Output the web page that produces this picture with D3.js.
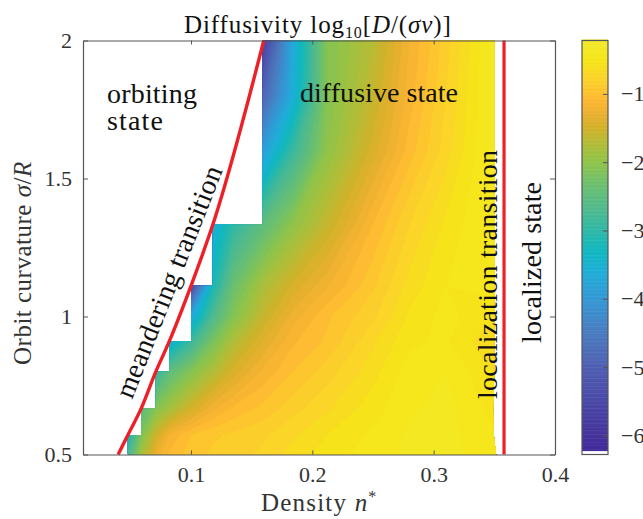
<!DOCTYPE html>
<html>
<head>
<meta charset="utf-8">
<script src="https://cdn.jsdelivr.net/npm/d3@7"></script>
<style>
  body { margin: 0; background: #fff; }
  text { font-family: "Liberation Serif", serif; }
</style>
</head>
<body>
<div id="chart"></div>
<script>
var width = 643, height = 519;
var margin = { top: 40.5, right: 88, bottom: 64.5, left: 83 };

// density columns of the table
var densities = [0.048, 0.059, 0.071, 0.082, 0.1, 0.118, 0.135, 0.159, 0.184, 0.212, 0.25, 0.28, 0.31, 0.352];
// orbit curvature rows, bottom to top
var curvatures = [0.5, 0.571, 0.667, 0.8, 0.909, 1.0, 1.111, 1.333, 1.6, 1.8, 2];

// log10 diffusivity, null where the state is not diffusive
var row050 = [-2.8, -1.85, -1.3, -1.08, -0.95, -0.88, -0.84, -0.78, -0.66, -0.55, -0.45, -0.38, -0.36, -0.48];
var row057 = [-3.3, -2.15, -1.55, -1.2, -1.0, -0.92, -0.88, -0.82, -0.72, -0.6, -0.48, -0.38, -0.36, -0.5];
var row067 = [null, -2.6, -2.1, -1.85, -1.5, -1.22, -1.08, -0.97, -0.84, -0.72, -0.54, -0.42, -0.36, -0.55];
var row080 = [null, null, -3.0, -2.5, -2.1, -1.75, -1.45, -1.18, -1.0, -0.85, -0.64, -0.45, -0.4, -0.62];
var row091 = [null, null, null, -3.6, -2.9, -2.2, -1.75, -1.4, -1.12, -0.98, -0.72, -0.52, -0.48, -0.72];
var row100 = [null, null, null, null, -3.7, -2.7, -2.1, -1.6, -1.25, -1.02, -0.82, -0.58, -0.46, -0.6];
var row111 = [null, null, null, null, -5.5, -3.2, -2.35, -1.8, -1.47, -1.22, -0.92, -0.66, -0.5, -0.4];
var row133 = [null, null, null, null, null, -3.6, -3.0, -2.5, -2.0, -1.6, -1.1, -0.8, -0.58, -0.35];
var row160 = [null, null, null, null, null, null, null, -3.9, -2.9, -2.0, -1.45, -1.05, -0.75, -0.32];
var row180 = [null, null, null, null, null, null, null, -4.9, -3.6, -2.1, -1.6, -1.15, -0.8, -0.32];
var row200 = [null, null, null, null, null, null, null, -5.7, -3.7, -2.1, -1.7, -1.2, -0.85, -0.32];
var rows = [row050, row057, row067, row080, row091, row100, row111, row133, row160, row180, row200];

// right edge of the diffusive region at each row
var rightEdge = [0.3515, 0.3495, 0.349, 0.35, 0.35, 0.35, 0.35, 0.35, 0.35, 0.35, 0.35];

var xTicks = [0.1, 0.2, 0.3, 0.4];
var yTicks = [0.5, 1, 1.5, 2];
var barTicks = [-1, -2, -3, -4, -5, -6];
var meanderCurve = [0.5, 0.571, 0.667, 0.8, 0.909, 1.111, 1.333, 2];
var meanderDensity = [0.04, 0.048, 0.059, 0.071, 0.082, 0.1, 0.118, 0.16];
var localizationDensity = 0.358;

// colormap
var mapValues = [-0.2, -0.5, -0.8, -1.1, -1.3, -1.5, -1.75, -2, -2.3, -2.7, -3, -3.3, -3.6, -4, -4.5, -5, -5.5, -6, -6.25];
var mapColors = ["#f2ea2e", "#f5e617", "#fcd22a", "#fdb732", "#eab030", "#d3b129", "#b0bd38", "#8fc449", "#6fc06c",
  "#4fba8f", "#2fb8a6", "#0fb8c0", "#1faed8", "#3498d5", "#4a7cc0", "#4f5fb2", "#4a49a8", "#45339b", "#40289a"];

var color = d3.scaleLinear().domain(mapValues).range(mapColors).clamp(true);

var svg = d3.select("#chart").append("svg")
  .attr("width", width)
  .attr("height", height);

var x = d3.scaleLinear().domain([0.011, 0.4]).range([margin.left, width - margin.right]);
var y = d3.scaleLinear().domain([0.5, 2]).range([height - margin.bottom, margin.top]);

function firstValid(j) {
  return rows[j].findIndex(function(v) { return v !== null; });
}

// clip follows the stair on the left and the edge on the right
var clipPoints = [[densities[firstValid(0)], curvatures[0]]];
curvatures.forEach(function(c, j) {
  if (j > 0) {
    var s = densities[firstValid(j)];
    clipPoints.push([s, curvatures[j - 1]]);
    clipPoints.push([s, c]);
  }
});
curvatures.slice().reverse().forEach(function(c, j) {
  clipPoints.push([rightEdge[curvatures.length - 1 - j], c]);
});

svg.append("clipPath").attr("id", "stair")
  .append("path")
  .attr("d", d3.line().x(function(d) { return x(d[0]); }).y(function(d) { return y(d[1]); })(clipPoints) + "Z");

// flatten the table, cells outside the region repeat the first value of the row
var nx = densities.length, ny = curvatures.length;
var grid = [];
rows.forEach(function(r, j) {
  var f = r[firstValid(j)];
  r.forEach(function(v) { grid.push(v === null ? f : v); });
});

var levels = d3.range(-6.3, -0.25, 0.1);
var contours = d3.contours().size([nx, ny]).thresholds(levels)(grid);

var colToX = d3.scaleLinear().domain(densities.map(function(d, i) { return i + 0.5; })).range(densities).clamp(true);
var rowToY = d3.scaleLinear().domain(curvatures.map(function(d, i) { return i + 0.5; })).range(curvatures).clamp(true);

var project = d3.geoTransform({
  point: function(px, py) { this.stream.point(x(colToX(px)), y(rowToY(py))); }
});

svg.append("g").attr("clip-path", "url(#stair)")
  .selectAll("path")
  .data(contours)
  .enter()
  .append("path")
  .attr("d", d3.geoPath(project))
  .attr("fill", function(d) { return color(d.value + 0.05); })
  .attr("stroke", function(d) { return color(d.value + 0.05); })
  .attr("stroke-width", 0.4);

// red transition lines
svg.append("path")
  .datum(meanderCurve.map(function(c, i) { return [meanderDensity[i], c]; }))
  .attr("d", d3.line().curve(d3.curveMonotoneX)
    .x(function(d) { return x(d[0]); })
    .y(function(d) { return y(d[1]); }))
  .attr("fill", "none")
  .attr("stroke", "#ee2027").attr("stroke-width", 3.4);

svg.append("line")
  .attr("x1", x(localizationDensity)).attr("y1", y(0.5))
  .attr("x2", x(localizationDensity)).attr("y2", y(2))
  .attr("stroke", "#ee2027").attr("stroke-width", 3.2);

// axes, ticks on all sides
var axisColor = "#555";
var tickColor = "#333";
var tickSize = 22;

function styleAxis(g) {
  g.selectAll(".domain").attr("stroke", axisColor).attr("stroke-width", 1.2);
  g.selectAll(".tick line").attr("stroke", axisColor);
  g.selectAll("text").attr("font-family", "Liberation Serif").attr("font-size", tickSize).attr("fill", tickColor);
}

svg.append("g")
  .attr("transform", "translate(0," + y(0.5) + ")")
  .call(d3.axisBottom(x).tickValues(xTicks).tickSize(-4).tickPadding(12).tickSizeOuter(0).tickFormat(d3.format(".1f")))
  .call(styleAxis);
svg.append("g")
  .attr("transform", "translate(0," + y(2) + ")")
  .call(d3.axisTop(x).tickValues(xTicks).tickSize(-4).tickSizeOuter(0).tickFormat(""))
  .call(styleAxis);
svg.append("g")
  .attr("transform", "translate(" + x.range()[0] + ",0)")
  .call(d3.axisLeft(y).tickValues(yTicks).tickSize(-5).tickPadding(11).tickSizeOuter(0).tickFormat(function(d) { return d; }))
  .call(styleAxis);
svg.append("g")
  .attr("transform", "translate(" + x.range()[1] + ",0)")
  .call(d3.axisRight(y).tickValues(yTicks).tickSize(-5).tickSizeOuter(0).tickFormat(""))
  .call(styleAxis);

// colorbar
var barLeft = 582, barRight = 608;
var barScale = d3.scaleLinear().domain([-0.218, -6.28]).range([margin.top, height - margin.bottom]);
var barSteps = d3.range(-6.23, -0.218, 0.02);

svg.append("g").selectAll("rect")
  .data(barSteps)
  .enter()
  .append("rect")
  .attr("x", barLeft)
  .attr("width", barRight - barLeft)
  .attr("y", function(d) { return barScale(d + 0.02) - 0.5; })
  .attr("height", function(d) { return barScale(d) - barScale(d + 0.02) + 0.5; })
  .attr("fill", function(d) { return color(d + 0.01); });

svg.append("rect")
  .attr("x", barLeft).attr("y", margin.top)
  .attr("width", barRight - barLeft).attr("height", barScale.range()[1] - margin.top)
  .attr("fill", "none").attr("stroke", axisColor).attr("stroke-width", 1.2);

svg.append("g")
  .attr("transform", "translate(" + barRight + ",0)")
  .call(d3.axisRight(barScale).tickValues(barTicks).tickSize(-5).tickPadding(13).tickSizeOuter(0)
    .tickFormat(function(d) { return "\u2212" + Math.abs(d); }))
  .call(styleAxis)
  .call(function(g) { g.select(".domain").remove(); });

// labels
function label(px, py, size, rotate, fit, spacing) {
  var t = svg.append("text")
    .attr("transform", "translate(" + px + "," + py + ") rotate(" + rotate + ")")
    .attr("font-size", size)
    .attr("fill", "#111");
  if (fit) t.attr("textLength", fit).attr("lengthAdjust", "spacing");
  if (spacing) t.attr("letter-spacing", spacing);
  return t;
}

label(107, 103, 28, 0, 90).text("orbiting");
label(107, 130, 28, 0, 56).text("state");
label(300, 102, 28, 0, 158).text("diffusive state");
label(132, 400, 28, -68.4, 247).text("meandering transition");
label(497, 399, 28, -90, 249).text("localization transition");
label(541, 343, 28, -90, 161).text("localized state");

var title = label(184, 33, 25, 0, null, 0.9);
title.append("tspan").text("Diffusivity log");
title.append("tspan").attr("font-size", 16).attr("dy", 5).text("10");
title.append("tspan").attr("dy", -5).text("[");
title.append("tspan").attr("font-style", "italic").text("D");
title.append("tspan").text("/(");
title.append("tspan").attr("font-style", "italic").text("\u03c3v");
title.append("tspan").text(")]");

var xLabel = label(261, 511, 25, 0, null, 1.2).attr("fill", "#333");
xLabel.append("tspan").text("Density ");
xLabel.append("tspan").attr("font-style", "italic").text("n");
xLabel.append("tspan").attr("font-size", 16).attr("dy", -9).text("*");

var yLabel = label(31, 365, 25, -90, null, 0.5).attr("fill", "#333");
yLabel.append("tspan").text("Orbit curvature ");
yLabel.append("tspan").attr("font-style", "italic").text("\u03c3");
yLabel.append("tspan").text("/");
yLabel.append("tspan").attr("font-style", "italic").text("R");
</script>
</body>
</html>
